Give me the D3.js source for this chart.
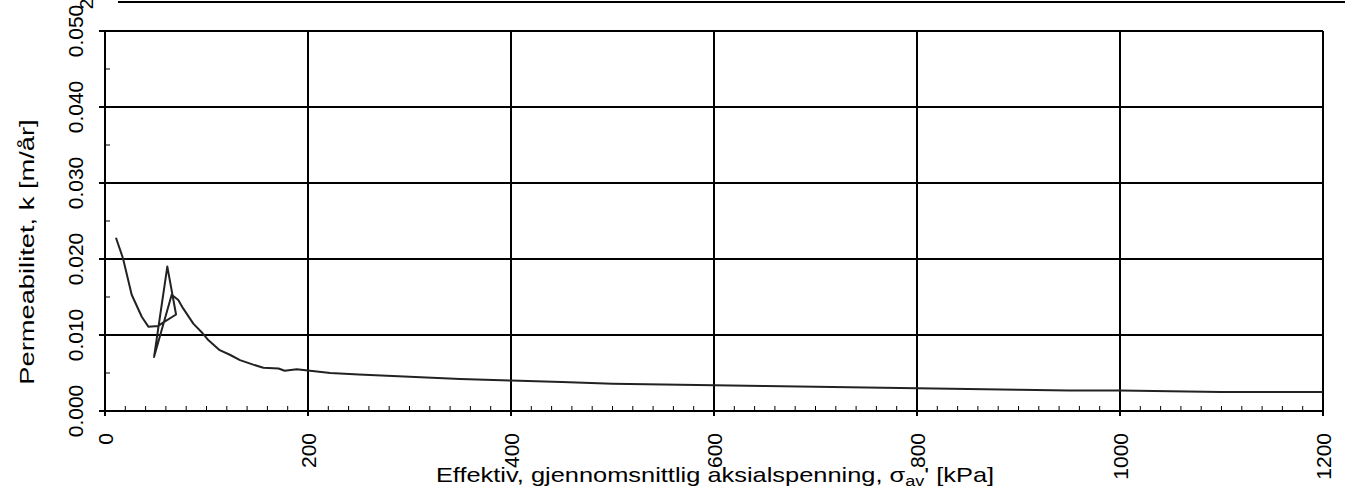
<!DOCTYPE html>
<html>
<head>
<meta charset="utf-8">
<script src="https://cdn.jsdelivr.net/npm/d3@7"></script>
<style>
body { margin:0; background:#fff; }
svg { display:block; font-family:"Liberation Sans", Arial, sans-serif; }
.grid line { stroke:#000; stroke-width:2; }
</style>
</head>
<body>
<div id="chart"></div>
<script>
// effective axial stress [kPa] and permeability [m/år], in measured order
var sigma = [10.8, 17.7, 26.3, 36.2, 42.7, 52.5, 56.8, 70, 61.4, 48.3, 65.7, 72.2, 77, 87, 95, 102, 113, 123, 133, 146, 156, 171, 177, 189, 202, 222,
	250, 300, 350, 400, 450, 500, 550, 600, 650, 700, 750, 800, 850, 900, 950, 1000, 1050, 1100, 1150, 1200];
var perm = [0.0228, 0.0201, 0.0153, 0.0124, 0.0111, 0.0112, 0.0116, 0.0127, 0.0190, 0.0071, 0.0153, 0.0146, 0.0135, 0.0115, 0.0104, 0.0093, 0.0080, 0.0074, 0.0067, 0.0061, 0.0057, 0.0056, 0.0053, 0.0055, 0.0053, 0.0050,
	0.0048, 0.0045, 0.0042, 0.0040, 0.0038, 0.0036, 0.0035, 0.0034, 0.0033, 0.0032, 0.0031, 0.0030, 0.0029, 0.0028, 0.0027, 0.0027, 0.0026, 0.0025, 0.0025, 0.0025];

var xTicks = [0, 200, 400, 600, 800, 1000, 1200];
var yTicks = [0, 0.010, 0.020, 0.030, 0.040, 0.050];

var width = 1345, height = 492;
var svg = d3.select("#chart").append("svg").attr("width", width).attr("height", height);
svg.append("rect").attr("width", width).attr("height", height).attr("fill", "#fff");

var x = d3.scaleLinear().domain([0, 1200]).range([105, 1323]);
var y = d3.scaleLinear().domain([0, 0.05]).range([411, 31]);

// line of the figure above, cut off at the top
svg.append("line").attr("x1", 118).attr("x2", width).attr("y1", 2).attr("y2", 2)
	.attr("stroke", "#000").attr("stroke-width", 2);
svg.append("text").attr("transform", "translate(93,4)rotate(-90)")
	.attr("text-anchor", "middle").attr("font-size", 19).text("2");

// minor ticks, inside
svg.append("g").selectAll("line").data(d3.range(0, 1201, 20)).enter().append("line")
	.attr("x1", function(d){ return x(d); }).attr("x2", function(d){ return x(d); })
	.attr("y1", y(0)).attr("y2", y(0) - 5).attr("stroke", "#000").attr("stroke-width", 1);
svg.append("g").selectAll("line").data(d3.range(0.005, 0.05, 0.010)).enter().append("line")
	.attr("x1", x(0)).attr("x2", x(0) + 5)
	.attr("y1", function(d){ return y(d); }).attr("y2", function(d){ return y(d); })
	.attr("stroke", "#000").attr("stroke-width", 1);

// grid and frame
var grid = svg.append("g").attr("class", "grid");
grid.selectAll(".v").data(xTicks).enter().append("line").attr("class", "v")
	.attr("x1", function(d){ return x(d); }).attr("x2", function(d){ return x(d); })
	.attr("y1", y(0.05)).attr("y2", y(0) + 5);
grid.selectAll(".h").data(yTicks).enter().append("line").attr("class", "h")
	.attr("x1", x(0) - 6).attr("x2", x(1200))
	.attr("y1", function(d){ return y(d); }).attr("y2", function(d){ return y(d); });

// the curve
var line = d3.line().x(function(d){ return x(d); }).y(function(d, i){ return y(perm[i]); });
svg.append("path").attr("d", line(sigma)).attr("fill", "none")
	.attr("stroke", "#222").attr("stroke-width", 2).attr("stroke-linejoin", "round");

// tick labels
svg.append("g").selectAll("text").data(yTicks).enter().append("text")
	.attr("transform", function(d){ return "translate(83," + y(d) + ")rotate(-90)"; })
	.attr("text-anchor", "middle").attr("font-size", 21)
	.text(function(d){ return d3.format(".3f")(d); });
svg.append("g").selectAll("text").data(xTicks).enter().append("text")
	.attr("transform", function(d){ return "translate(" + (x(d) + 8) + ",433)rotate(-90)"; })
	.attr("text-anchor", "end").attr("font-size", 21)
	.text(function(d){ return d; });

// axis titles (the scanned lettering is wider than the font)
svg.append("text").attr("transform", "translate(34,252)rotate(-90)scale(1.3,1)")
	.attr("text-anchor", "middle").attr("font-size", 21)
	.text("Permeabilitet, k [m/år]");
var xt = svg.append("text").attr("transform", "translate(715,482)scale(1.21,1)")
	.attr("text-anchor", "middle").attr("font-size", 21);
xt.append("tspan").text("Effektiv, gjennomsnittlig aksialspenning, ");
xt.append("tspan").text("σ");
xt.append("tspan").attr("font-size", 15).attr("dy", 4).text("av");
xt.append("tspan").attr("dy", -4).text("'  [kPa]");
</script>
</body>
</html>
